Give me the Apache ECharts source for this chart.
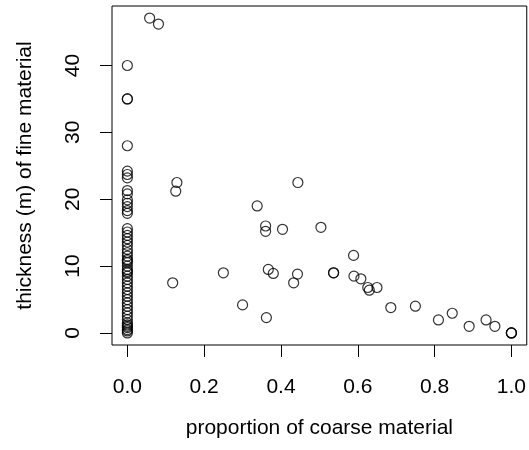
<!DOCTYPE html>
<html>
<head>
<meta charset="utf-8">
<script src="https://cdn.jsdelivr.net/npm/echarts@6/dist/echarts.min.js"></script>
<style>
  html, body { margin: 0; padding: 0; background: #fff; }
  #chart { width: 529px; height: 450px; }
</style>
</head>
<body>
<div id="chart"></div>
<script>
// sites with no coarse material (proportion = 0)
const zeroCoarseThickness = [
  40, 35, 35, 28, 24.2, 23.7, 23.2, 21.3, 20.8, 19.9, 19.4, 18.9, 18.3, 17.9,
  15.6, 15.1, 14.6, 14.1, 13.6, 13.1, 12.5, 12, 11.5, 11, 10.8, 10.5, 10, 9.5,
  9.2, 9, 8.5, 8, 7.5, 7, 6.5, 6, 5.5, 5, 4.5, 4, 3.5, 3, 2.5, 2, 1.5, 1.2, 1,
  0.8, 0.5, 0.3, 0
]

// remaining sites
const coarseProportion = [
  0.058, 0.081, 0.129, 0.126, 0.118, 0.250, 0.300, 0.338, 0.360, 0.360,
  0.362, 0.367, 0.380, 0.404, 0.433, 0.443, 0.444, 0.504, 0.537, 0.537,
  0.589, 0.590, 0.608, 0.626, 0.630, 0.650, 0.686, 0.750, 0.810, 0.846,
  0.890, 0.934, 0.957, 1.0, 1.0, 1.0
]
const coarseThickness = [
  47.1, 46.2, 22.5, 21.2, 7.5, 9.0, 4.2, 19.0, 16.0, 15.2,
  2.3, 9.5, 8.9, 15.5, 7.5, 8.8, 22.5, 15.8, 9.0, 9.0,
  11.6, 8.5, 8.1, 6.8, 6.4, 6.8, 3.8, 4.0, 1.95, 2.95,
  1.0, 1.95, 1.0, 0, 0, 0
]

const xTicks = [0, 0.2, 0.4, 0.6, 0.8, 1.0]
const yTicks = [0, 10, 20, 30, 40]

const points = zeroCoarseThickness.map(v => [0, v])
  .concat(coarseProportion.map((p, i) => [p, coarseThickness[i]]))

const font = 'Liberation Sans, Arial, Helvetica, sans-serif'
const chart = echarts.init(document.getElementById('chart'))

chart.setOption({
  animation: false,
  backgroundColor: '#fff',
  grid: {
    left: 112,
    top: 6,
    width: 416,
    height: 339,
    show: true,
    borderColor: '#000',
    borderWidth: 1,
    backgroundColor: 'transparent'
  },
  xAxis: {
    type: 'value',
    min: -0.04,
    max: 1.04,
    splitLine: { show: false },
    axisLine: { show: false, onZero: false },
    axisTick: {
      show: true,
      length: 12,
      customValues: xTicks,
      lineStyle: { color: '#000', width: 1 }
    },
    axisLabel: {
      customValues: xTicks,
      margin: 32,
      color: '#000',
      fontFamily: font,
      fontSize: 21,
      formatter: v => v.toFixed(1)
    },
    name: 'proportion of coarse material',
    nameLocation: 'middle',
    nameGap: 73,
    nameTextStyle: { color: '#000', fontFamily: font, fontSize: 21 }
  },
  yAxis: {
    type: 'value',
    min: -1.8,
    max: 48.9,
    splitLine: { show: false },
    axisLine: { show: false, onZero: false },
    axisTick: {
      show: true,
      length: 12,
      customValues: yTicks,
      lineStyle: { color: '#000', width: 1 }
    },
    axisLabel: {
      customValues: yTicks,
      rotate: 90,
      margin: 28,
      color: '#000',
      fontFamily: font,
      fontSize: 21
    },
    name: 'thickness (m) of fine material',
    nameLocation: 'middle',
    nameGap: 76,
    nameTextStyle: { color: '#000', fontFamily: font, fontSize: 21 }
  },
  series: [
    {
      type: 'scatter',
      data: points,
      symbol: 'circle',
      symbolSize: 10,
      itemStyle: {
        color: 'rgba(0,0,0,0)',
        borderColor: '#000',
        borderWidth: 1.2
      },
      emphasis: { disabled: true }
    }
  ]
})
</script>
</body>
</html>
